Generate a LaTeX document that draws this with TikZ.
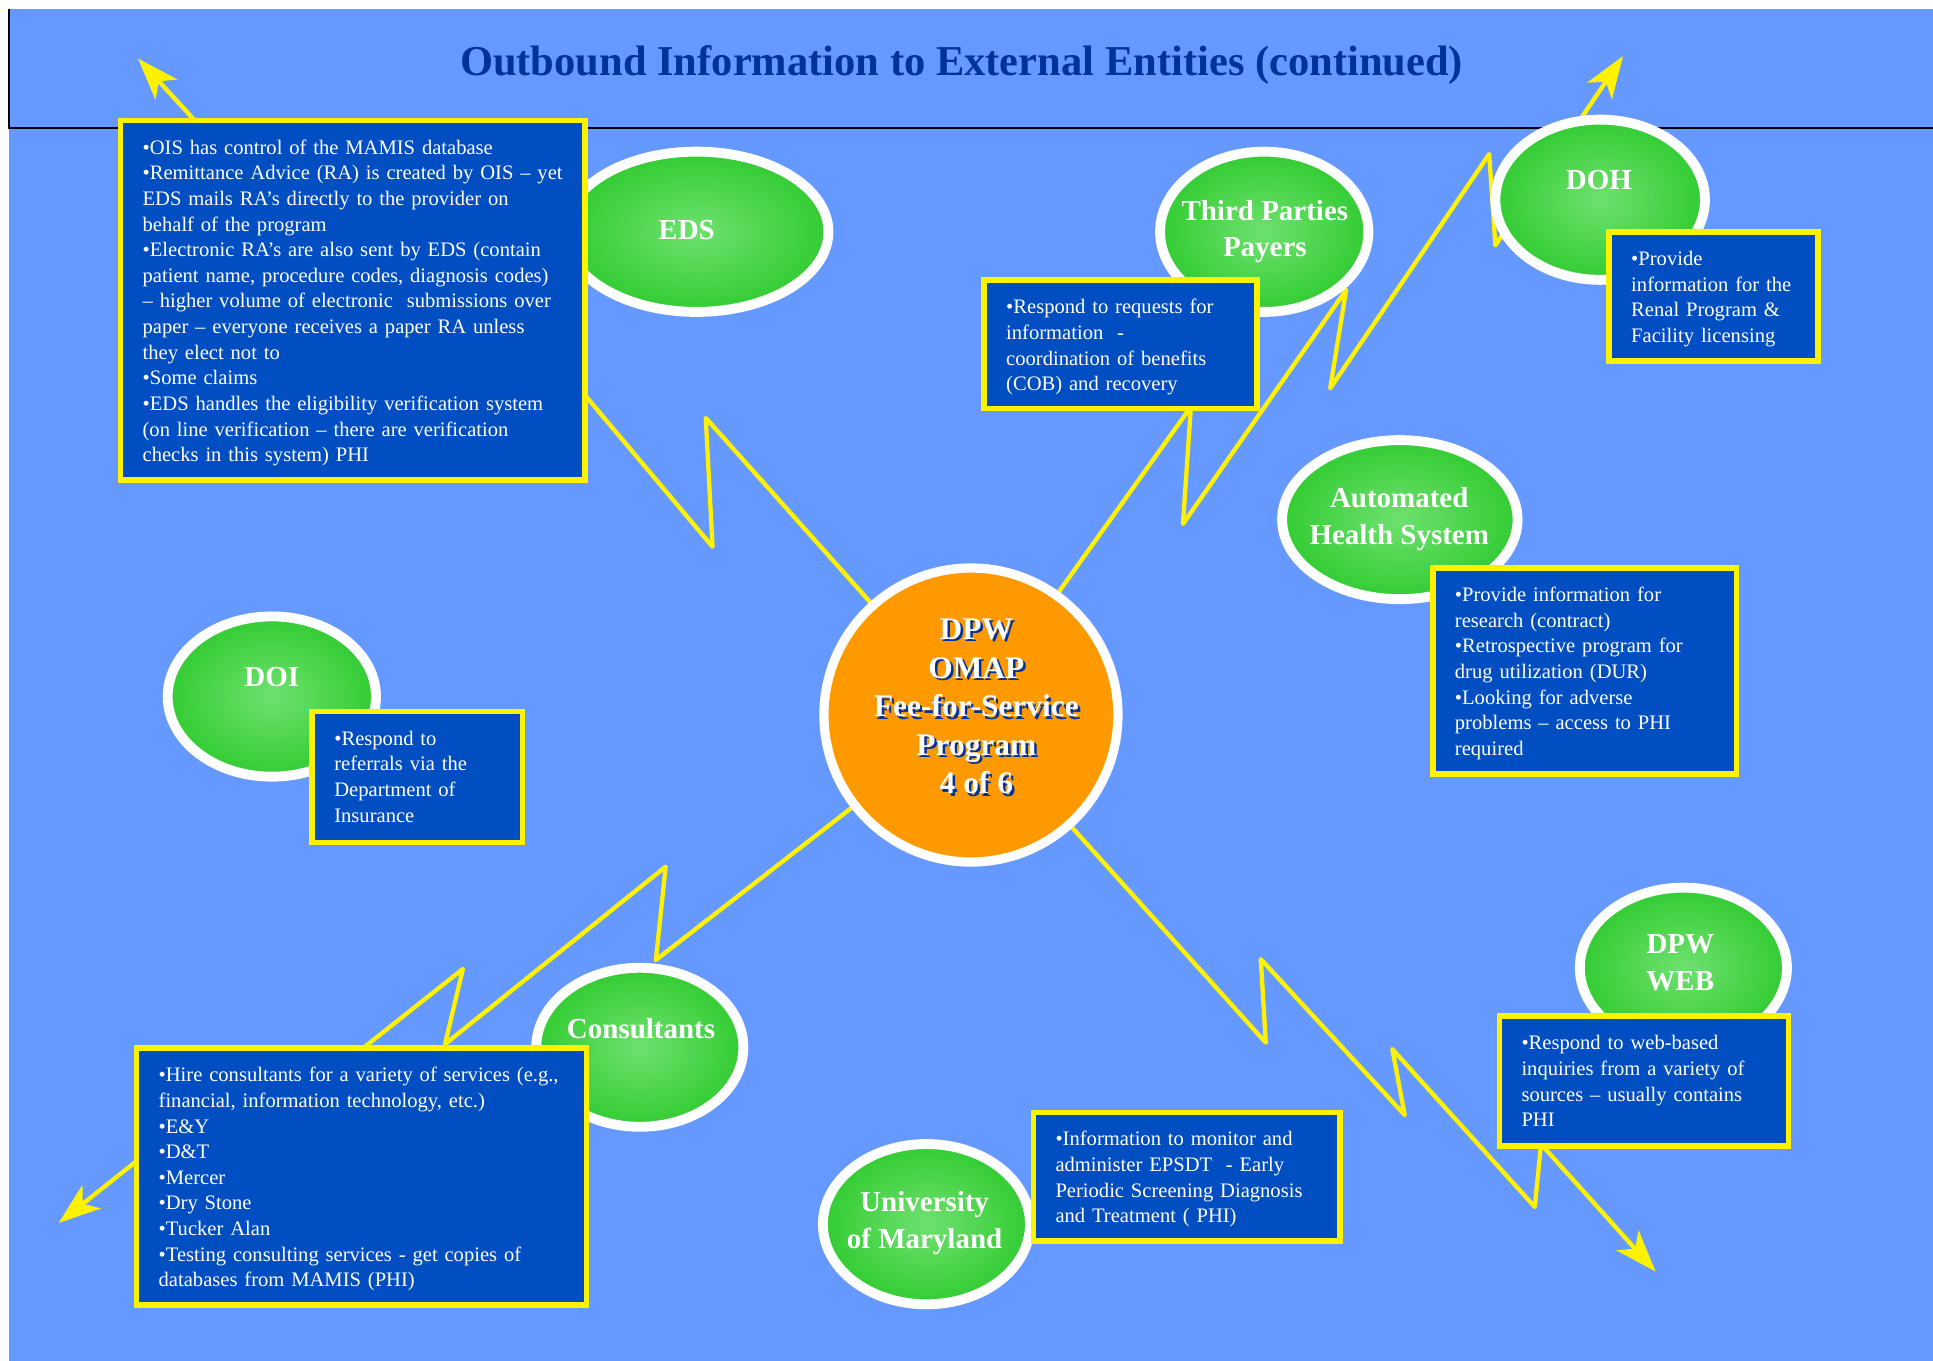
\documentclass[tikz,border=0pt]{standalone}
\usepackage{fontspec}
\setmainfont{Liberation Serif}
\usetikzlibrary{arrows.meta,shapes.geometric}

\definecolor{slideblue}{RGB}{102,153,255}
\definecolor{boxblue}{RGB}{0,78,194}
\definecolor{titleblue}{RGB}{0,51,153}
\definecolor{entgreen}{RGB}{51,204,51}
\definecolor{entlight}{RGB}{110,225,110}
\definecolor{huborange}{RGB}{255,153,0}

\tikzset{
  entity/.style={ellipse, draw=white, line width=8pt, inner sep=0pt,
    minimum width=169pt, minimum height=130pt,
    inner color=entlight, outer color=entgreen},
  entlabel/.style={text=white, align=center, inner sep=0pt,
    font=\fontsize{23.5}{29.5}\selectfont\bfseries},
  infobox/.style={draw=yellow, line width=4.5pt, fill=boxblue,
    inner sep=0pt, anchor=north west},
  infotext/.style={text=white, text width=360pt, align=left, inner sep=0pt,
    anchor=base west, font=\fontsize{16.7}{20.8}\selectfont},
  hubtext/.style={align=center, inner sep=0pt,
    font=\fontsize{25.5}{31.25}\selectfont\bfseries},
  bolt/.style={yellow, line width=3.5pt, line join=round,
    -{Stealth[length=34pt,width=24pt,inset=9pt]}},
}

\begin{document}
\begin{tikzpicture}[x=1pt,y=-1pt]
% fundo
\fill[white] (0,0) rectangle (1568,1104);
\useasboundingbox (0,0) rectangle (1568,1104);
\fill[slideblue] (7,7) rectangle (1568,1104);
\draw[line width=1.8pt] (7,7) -- (7,104) -- (1568,104);

% titulo
\node[text=titleblue, anchor=base, inner sep=0pt,
  font=\fontsize{34.5}{40}\selectfont\bfseries] (title) at (780,61.6)
  {Outbound Information to External Entities (continued)};

% raios
\coordinate (hubc) at (787.6,580);
\coordinate (tipnw) at (112,47.5);
\coordinate (tipne) at (1316.6,45.5);
\coordinate (tipsw) at (47.6,992);
\coordinate (tipse) at (1343,1031.5);
\draw[bolt] (hubc) -- (572.5,339) -- (578,443.5) -- (440,279.5) -- (244,191.5) -- (tipnw);
\draw[bolt] (hubc) -- (966,330) -- (959.6,425) -- (1092,235) -- (1079,315)
  -- (1208,125) -- (1213,199) -- (tipne);
\draw[bolt] (hubc) -- (532,778.7) -- (540,703) -- (361,847) -- (375.5,786)
  -- (185,937) -- (190,879) -- (tipsw);
\draw[bolt] (hubc) -- (1026.8,845.8) -- (1022.7,778) -- (1139.5,904.5) -- (1129.4,851)
  -- (1245,979) -- (1250,928) -- (tipse);

% entidades
\node[entity, minimum width=214pt] (eds) at (565,188) {};
\node[entity] (third) at (1025.5,188) {};
\node[entity, minimum width=170pt] (doh) at (1298,162) {};
\node[entity, minimum width=191pt, minimum height=129pt] (ahs) at (1135.5,421.5) {};
\node[entity] (doi) at (220.5,565) {};
\node[entity, minimum width=168pt, minimum height=129pt] (cons) at (519,849.5) {};
\node[entity, minimum width=168pt] (web) at (1365.5,785) {};
\node[entity, minimum width=168pt] (umd) at (751.5,993) {};

\node[entlabel] (edslabel) at (557,187) {EDS};
\node[entlabel] (thirdlabel) at (1026,188) {Third Parties\\Payers};
\node[entlabel] (dohlabel) at (1297,146) {DOH};
\node[entlabel] (ahslabel) at (1135,421) {Automated\\Health System};
\node[entlabel] (doilabel) at (220.5,549) {DOI};
\node[entlabel] (conslabel) at (520,834) {Consultants};
\node[entlabel] (weblabel) at (1363,781) {DPW\\WEB};
\node[entlabel] (umdlabel) at (750,992) {University\\of Maryland};

% caixas
\node[infobox, minimum width=377pt, minimum height=291.5pt] (edsbox) at (95.5,95.5) {};
\node[infotext] (edstext) at ([shift={(20,29.5)}]edsbox.north west)
  {•OIS has control of the MAMIS database\\
   •Remittance Advice (RA) is created by OIS – yet\\
   EDS mails RA’s directly to the provider on\\
   behalf of the program\\
   •Electronic RA’s are also sent by EDS (contain\\
   patient name, procedure codes, diagnosis codes)\\
   – higher volume of electronic\ \ submissions over\\
   paper – everyone receives a paper RA unless\\
   they elect not to\\
   •Some claims\\
   •EDS handles the eligibility verification system\\
   (on line verification – there are verification\\
   checks in this system) PHI};

\node[infobox, minimum width=221.5pt, minimum height=104pt] (thirdbox) at (796,225) {};
\node[infotext] (thirdtext) at ([shift={(20,29.5)}]thirdbox.north west)
  {•Respond to requests for\\
   information\ \ -\\
   coordination of benefits\\
   (COB) and recovery};

\node[infobox, minimum width=169.5pt, minimum height=104.5pt] (dohbox) at (1303,186) {};
\node[infotext] (dohtext) at ([shift={(20,29.5)}]dohbox.north west)
  {•Provide\\
   information for the\\
   Renal Program \&\\
   Facility licensing};

\node[infobox, minimum width=246.5pt, minimum height=167pt] (ahsbox) at (1160,458.5) {};
\node[infotext] (ahstext) at ([shift={(20,29.5)}]ahsbox.north west)
  {•Provide information for\\
   research (contract)\\
   •Retrospective program for\\
   drug utilization (DUR)\\
   •Looking for adverse\\
   problems – access to PHI\\
   required};

\node[infobox, minimum width=170.5pt, minimum height=106pt] (doibox) at (251,575) {};
\node[infotext] (doitext) at ([shift={(20,29.5)}]doibox.north west)
  {•Respond to\\
   referrals via the\\
   Department of\\
   Insurance};

\node[infobox, minimum width=365pt, minimum height=208.5pt] (consbox) at (108.5,848) {};
\node[infotext] (constext) at ([shift={(20,29.5)}]consbox.north west)
  {•Hire consultants for a variety of services (e.g.,\\
   financial, information technology, etc.)\\
   •E\&Y\\
   •D\&T\\
   •Mercer\\
   •Dry Stone\\
   •Tucker Alan\\
   •Testing consulting services - get copies of\\
   databases from MAMIS (PHI)};

\node[infobox, minimum width=248.5pt, minimum height=104.5pt] (umdbox) at (836,900) {};
\node[infotext] (umdtext) at ([shift={(20,29.5)}]umdbox.north west)
  {•Information to monitor and\\
   administer EPSDT\ \ - Early\\
   Periodic Screening Diagnosis\\
   and Treatment ( PHI)};

\node[infobox, minimum width=234.5pt, minimum height=105.5pt] (webbox) at (1214,822) {};
\node[infotext] (webtext) at ([shift={(20,29.5)}]webbox.north west)
  {•Respond to web-based\\
   inquiries from a variety of\\
   sources – usually contains\\
   PHI};

% centro
\node[circle, draw=white, line width=7.5pt, fill=huborange, inner sep=0pt,
  minimum size=238.5pt] (hub) at (hubc) {};
\node[hubtext, text=titleblue] (hubshadow) at (794,575)
  {DPW\\OMAP\\Fee-for-Service\\Program\\4 of 6};
\node[hubtext, text=white] (hubtitle) at (792,573)
  {DPW\\OMAP\\Fee-for-Service\\Program\\4 of 6};

\end{tikzpicture}
\end{document}
